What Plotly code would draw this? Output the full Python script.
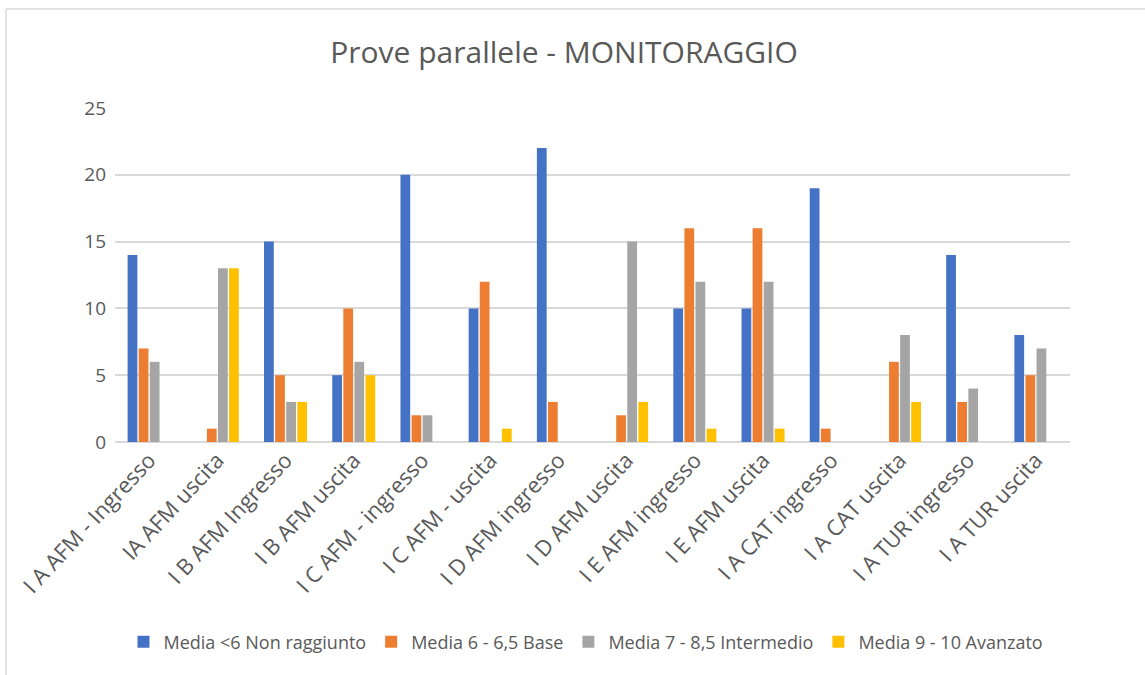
import plotly.graph_objects as go

categories = ["I A AFM - Ingresso", "IA AFM uscita", "I B AFM Ingresso", "I B AFM uscita",
              "I C AFM - ingresso", "I C AFM - uscita", "I D AFM ingresso", "I D AFM uscita",
              "I E AFM ingresso", "I E AFM uscita", "I A CAT ingresso", "I A CAT uscita",
              "I A TUR ingresso", "I A TUR uscita"]
non_raggiunto = [14, 0, 15, 5, 20, 10, 22, 0, 10, 10, 19, 0, 14, 8]
base = [7, 1, 5, 10, 2, 12, 3, 2, 16, 16, 1, 6, 3, 5]
intermedio = [6, 13, 3, 6, 2, 0, 0, 15, 12, 12, 0, 8, 4, 7]
avanzato = [0, 13, 3, 5, 0, 1, 0, 3, 1, 1, 0, 3, 0, 0]

series_names = ["Media <6 Non raggiunto", "Media 6 - 6,5 Base",
                "Media 7 - 8,5 Intermedio", "Media 9 - 10 Avanzato"]
colors = ["#4472C4", "#ED7D31", "#A5A5A5", "#FFC000"]

FONT = "Open Sans"
TXT = "#595959"

fig = go.Figure()
for name, vals, col in zip(series_names, [non_raggiunto, base, intermedio, avanzato], colors):
    fig.add_trace(go.Bar(x=categories, y=vals, name=name,
                         marker=dict(color=col, line=dict(width=0))))

W, H = 1145, 675
L, R, T, B = 115, 75, 108, 233
PW, PH = W - L - R, H - T - B
fig.update_layout(
    width=W, height=H,
    barmode="group", bargap=0.35, bargroupgap=0.12,
    paper_bgcolor="white", plot_bgcolor="white",
    margin=dict(l=L, r=R, t=T, b=B),
    font=dict(family=FONT, color=TXT),
    title=dict(text="Prove parallele - MONITORAGGIO", x=564 / W, xanchor="center",
               y=1 - 52 / H, yanchor="middle", font=dict(size=30, color=TXT, family=FONT)),
    xaxis=dict(tickangle=-47, tickfont=dict(size=22, color=TXT), showgrid=False,
               showline=False, ticks="", automargin=False),
    yaxis=dict(range=[0, 25], dtick=5, tickfont=dict(size=19, color=TXT),
               gridcolor="#D9D9D9", gridwidth=1.5, zeroline=True, zerolinecolor="#D9D9D9",
               zerolinewidth=1.5, showline=False, ticks="", automargin=False,
               ticklabelstandoff=8),
    legend=dict(orientation="h", x=586 / W, xanchor="center", y=1 - 642 / H, yanchor="middle",
                yref="container", xref="container",
                font=dict(size=18, color=TXT), itemwidth=30, traceorder="normal"),
    shapes=[
        dict(type="line", xref="paper", yref="paper",
             x0=(6 - L) / PW, x1=(6 - L) / PW,
             y0=(H - 9 - B) / PH, y1=-B / PH,
             line=dict(color="#D9D9D9", width=1.5)),
        dict(type="line", xref="paper", yref="paper",
             x0=(6 - L) / PW, x1=(W - L) / PW,
             y0=(H - 9 - B) / PH, y1=(H - 9 - B) / PH,
             line=dict(color="#D9D9D9", width=1.5)),
    ],
)

fig.write_html("out.html", config={"displayModeBar": False},
               post_script="document.body.style.margin='0px';")
